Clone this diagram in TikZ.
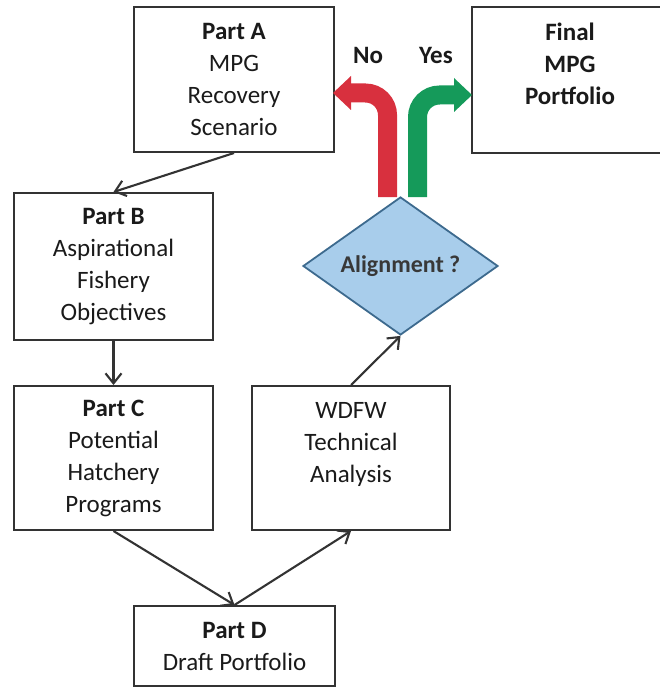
\documentclass[tikz,border=0pt]{standalone}
\usepackage{fontspec}
\setmainfont{Carlito}
\usetikzlibrary{shapes.geometric,arrows.meta,calc}
\definecolor{boxline}{HTML}{333333}
\definecolor{txt}{HTML}{1A1A1A}
\definecolor{diafill}{HTML}{A8CDEB}
\definecolor{diadraw}{HTML}{3D6A8E}
\definecolor{noRed}{HTML}{D8303E}
\definecolor{yesGreen}{HTML}{159A5A}
\tikzset{
  box/.style={draw=boxline, line width=2pt, rectangle, inner sep=0pt,
    align=center, text=txt, font=\fontsize{25}{32}\selectfont},
  conn/.style={draw=boxline, line width=2.1pt, -{Straight Barb[length=10pt,width=16pt,line width=2.1pt]}},
  bigshaft/.style={line width=19pt, rounded corners=22pt},
  lbl/.style={font=\fontsize{25}{30}\selectfont\bfseries, text=txt}
}
\begin{document}
\begin{tikzpicture}[x=1pt,y=-1pt]
\useasboundingbox (0,0) rectangle (660,687);
\node[box, minimum width=200pt, minimum height=145pt] (A) at (234,79.5)
  {\textbf{Part A}\\MPG\\Recovery\\Scenario};
\node[box, minimum width=196pt, minimum height=146pt] (F) at (570,80)
  {\textbf{Final}\\\textbf{MPG}\\\textbf{Portfolio}\\\mbox{}};
\node[box, minimum width=199pt, minimum height=147pt] (B) at (113.5,266.5)
  {\textbf{Part B}\\Aspirational\\Fishery\\Objectives};
\node[box, minimum width=199pt, minimum height=144pt] (C) at (113.5,458)
  {\textbf{Part C}\\Potential\\Hatchery\\Programs};
\node[box, minimum width=198pt, minimum height=144pt] (W) at (351,458)
  {WDFW\\Technical\\Analysis\\\mbox{}};
\node[box, minimum width=201pt, minimum height=80pt] (D) at (234.5,646)
  {\textbf{Part D}\\Draft Portfolio};
\node[diamond, draw=diadraw, fill=diafill, line width=1.8pt, inner sep=0pt,
  shape aspect=1.4, minimum width=195pt, minimum height=138pt,
  font=\fontsize{24}{28}\selectfont\bfseries, text={black!78}] (dia) at (400.5,266)
  {Alignment ?};
\draw[conn] (A.south) -- (B.north);
\draw[conn] (B.south) -- (C.north);
\draw[conn] (C.south) -- (D.north);
\draw[conn] (D.north) -- (W.south);
\draw[conn] (W.north) -- (dia.south);
% big No / Yes arrows
\coordinate (rs) at ([xshift=-13pt,yshift=-1pt]dia.north);
\coordinate (gs) at ([xshift=17pt,yshift=-1pt]dia.north);
\coordinate (rt) at (333,93);
\coordinate (gt) at (472,95);
\draw[bigshaft, draw=noRed] (rs) |- ($(rt)+(16,0)$);
\fill[noRed] (rt) -- ($(rt)+(18,-17)$) -- ($(rt)+(18,17)$) -- cycle;
\draw[bigshaft, draw=yesGreen] (gs) |- ($(gt)+(-16,0)$);
\fill[yesGreen] (gt) -- ($(gt)+(-18,-17)$) -- ($(gt)+(-18,17)$) -- cycle;
\node[lbl] (no) at (368,55) {No};
\node[lbl] (yes) at (436,55) {Yes};
\end{tikzpicture}
\end{document}
